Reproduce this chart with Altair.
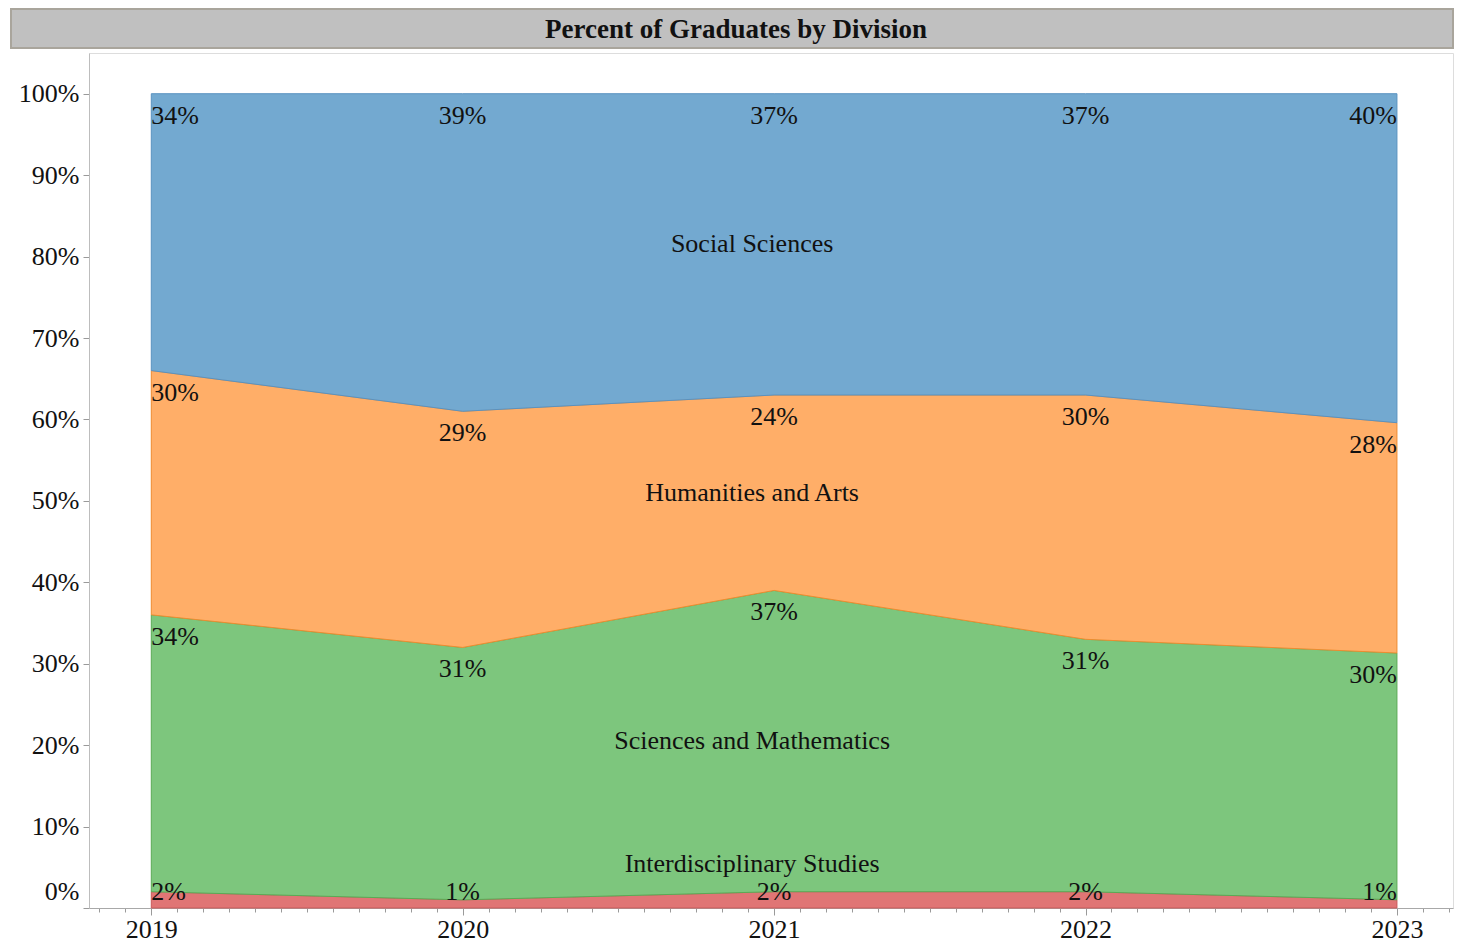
import altair as alt
import pandas as pd

years = [2019, 2020, 2021, 2022, 2023]
divisions = ["Interdisciplinary Studies", "Sciences and Mathematics", "Humanities and Arts", "Social Sciences"]
interdisciplinary = [2, 1, 2, 2, 1]
sciences = [34, 31, 37, 31, 30]
humanities = [30, 29, 24, 30, 28]
social = [34, 39, 37, 37, 40]
fill_colors = ["#E07575", "#7DC67D", "#FFAE68", "#73A9D0"]
stroke_colors = ["#C85A5A", "#5AAA55", "#EE8C30", "#5A92C0"]
y_ticks = [0, 10, 20, 30, 40, 50, 60, 70, 80, 90, 100]
title_text = "Percent of Graduates by Division"
FONT = "Liberation Serif"

series = [interdisciplinary, sciences, humanities, social]
rows = []
for yi, yr in enumerate(years):
    total = sum(s[yi] for s in series)
    cum = 0
    for di, (name, s) in enumerate(zip(divisions, series)):
        v = s[yi]
        bottom = cum
        cum += v
        rows.append(dict(year=yr, division=name, order=di, value=v,
                         bottom=bottom / total * 100, top=cum / total * 100,
                         mid=(bottom + cum) / 2 / total * 100, label=f"{v}%"))
df = pd.DataFrame(rows)

mid_year = years[len(years) // 2]
cat_df = df[df["year"] == mid_year].copy()
title_df = pd.DataFrame({"title": [title_text]})

X_MIN, X_MAX = 2018.8, 2023.18
# monthly tick positions (major ticks at whole years)
x_tick_values = [round(2018 + m / 12, 6) for m in range(0, 12 * 7)
                 if X_MIN <= 2018 + m / 12 <= X_MAX]

xscale = alt.Scale(domain=[X_MIN, X_MAX], nice=False, zero=False)
yscale = alt.Scale(domain=[0, 105], nice=False, zero=True)
color_scale = alt.Scale(domain=divisions, range=fill_colors)
stroke_scale = alt.Scale(domain=divisions, range=stroke_colors)

is_year = "abs(datum.value - round(datum.value)) < 0.001"
x_axis = alt.Axis(values=x_tick_values, orient="bottom", title=None, grid=False,
                  labelExpr=f"{is_year} ? format(datum.value, 'd') : ''",
                  labelOverlap=False, labelFlush=False,
                  tickSize=alt.condition(is_year, alt.value(7), alt.value(4)),
                  tickColor="#9A9A9A", domainColor="#A8A8A8",
                  labelFont=FONT, labelFontSize=26, labelColor="#111111", labelPadding=1)
y_axis = alt.Axis(values=y_ticks, title=None, grid=False, labelExpr="datum.value + '%'",
                  tickSize=6, tickColor="#9A9A9A", domainColor="#BDBDBD",
                  labelFont=FONT, labelFontSize=26, labelColor="#111111", labelPadding=4,
                  labelOverlap=False, labelFlush=False,
                  labelOffset=alt.condition("datum.value == 0", alt.value(-17), alt.value(0)))


def X(field="year"):
    return alt.X(f"{field}:Q", scale=xscale, axis=x_axis)


def Y(field):
    return alt.Y(f"{field}:Q", scale=yscale, axis=y_axis)


layers = []
for name in divisions:
    layers.append(
        alt.Chart(df).transform_filter(alt.datum.division == name)
        .mark_area(strokeWidth=1, opacity=1)
        .encode(
            x=X(), y=Y("top"), y2="bottom:Q",
            fill=alt.Fill("division:N", scale=color_scale, legend=None),
            stroke=alt.Stroke("division:N", scale=stroke_scale, legend=None),
        )
    )


def value_text(filt, align, baseline, dy, yfield):
    return (alt.Chart(df).transform_filter(filt)
            .mark_text(font=FONT, fontSize=26, color="#111111", align=align, baseline=baseline, dy=dy)
            .encode(x=X(), y=Y(yfield), text="label:N"))


first, last = years[0], years[-1]
bottom_div = divisions[0]
not_bottom = alt.datum.division != bottom_div
is_bottom = alt.datum.division == bottom_div
inner = (alt.datum.year != first) & (alt.datum.year != last)
layers += [
    value_text(not_bottom & (alt.datum.year == first), "left", "top", 9, "top"),
    value_text(not_bottom & (alt.datum.year == last), "right", "top", 9, "top"),
    value_text(not_bottom & inner, "center", "top", 9, "top"),
    value_text(is_bottom & (alt.datum.year == first), "left", "bottom", -3, "bottom"),
    value_text(is_bottom & (alt.datum.year == last), "right", "bottom", -3, "bottom"),
    value_text(is_bottom & inner, "center", "bottom", -3, "bottom"),
]

cat_common = dict(font=FONT, fontSize=26, color="#111111", align="center", baseline="middle", dx=-22)
layers.append(
    alt.Chart(cat_df).transform_filter(not_bottom).mark_text(**cat_common)
    .encode(x=X(), y=Y("mid"), text="division:N")
)
layers.append(
    alt.Chart(cat_df).transform_filter(is_bottom).mark_text(dy=-36, **cat_common)
    .encode(x=X(), y=Y("mid"), text="division:N")
)

# title bar
layers.append(
    alt.Chart(title_df).mark_rect(fill="#C0C0C0", stroke="#A9A59C", strokeWidth=2, clip=False)
    .encode(x=alt.value(-78), x2=alt.value("width"), y=alt.value(-44), y2=alt.value(-5))
)
layers.append(
    alt.Chart(title_df).mark_text(font=FONT, fontSize=27, fontWeight="bold", color="#111111",
                                  align="center", baseline="middle")
    .encode(x=alt.value({"expr": "(width - 78) / 2 + 4"}), y=alt.value(-23), text="title:N")
)

chart = (alt.layer(*layers)
         .properties(width=1446, height=934,
                     autosize=alt.AutoSizeParams(type="fit", contains="padding"),
                     padding={"left": 2, "top": 0, "right": 0, "bottom": 0})
         .configure_view(stroke="#C8C8C8", strokeWidth=1)
         .configure(background="white"))

chart.save("out.html", embed_options={"renderer": "svg", "actions": False})
